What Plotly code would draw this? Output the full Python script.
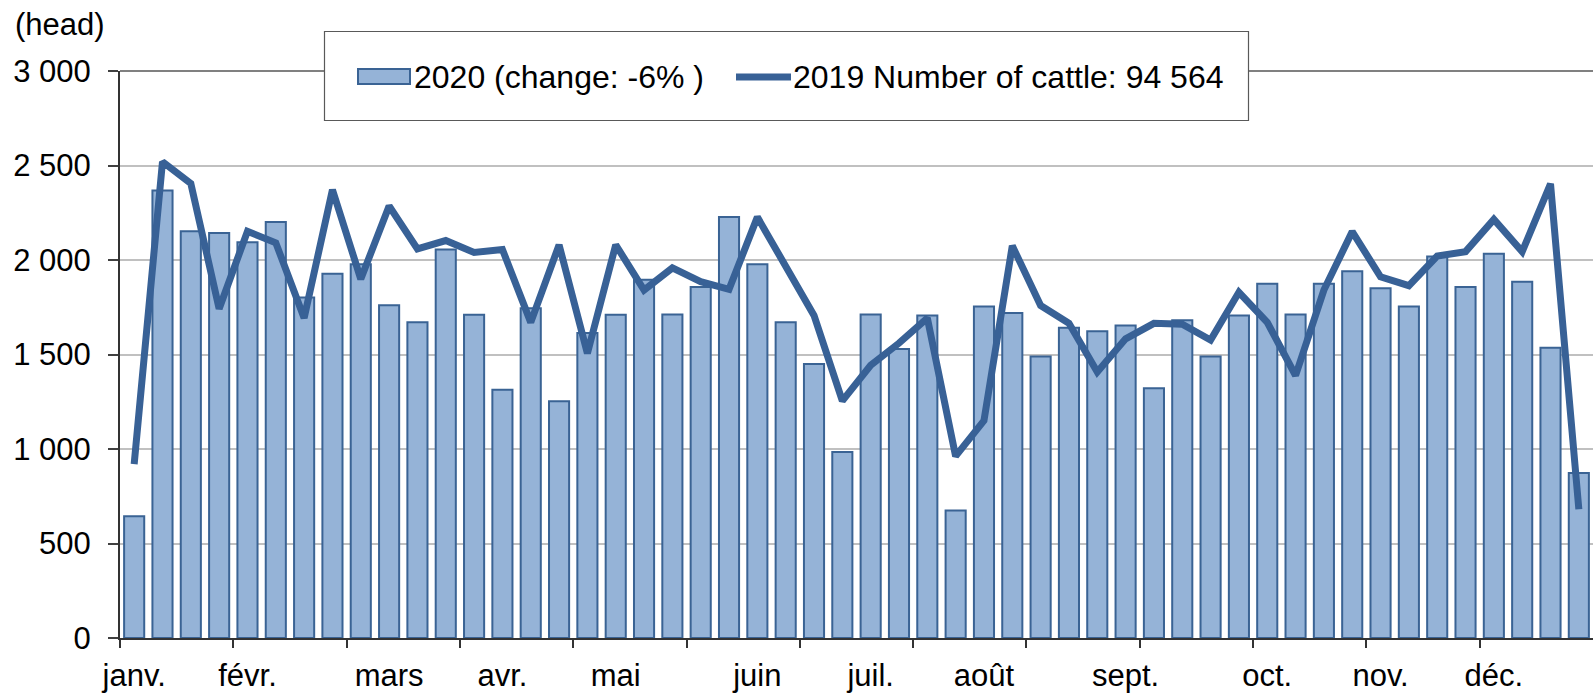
import plotly.graph_objects as go

months = ["janv.", "févr.", "mars", "avr.", "mai", "juin", "juil.", "août",
          "sept.", "oct.", "nov.", "déc."]
month_week_index = [0, 4, 9, 13, 17, 22, 26, 30, 35, 40, 44, 48]
weeks = list(range(52))

cattle_2020 = [644, 2368, 2152, 2143, 2094, 2201, 1801, 1927, 1977, 1761,
               1670, 2056, 1710, 1314, 1745, 1253, 1614, 1710, 1895, 1712,
               1857, 2227, 1977, 1670, 1450, 984, 1712, 1529, 1707, 674,
               1754, 1719, 1489, 1642, 1623, 1653, 1321, 1681, 1489, 1707,
               1874, 1712, 1874, 1941, 1850, 1754, 2019, 1857, 2033, 1885,
               1536, 873]
cattle_2019 = [920, 2520, 2405, 1742, 2152, 2091, 1693, 2372, 1899, 2286,
               2059, 2103, 2040, 2056, 1670, 2080, 1506, 2080, 1841, 1958,
               1885, 1845, 2227, 1970, 1707, 1255, 1443, 1560, 1693, 962,
               1150, 2075, 1759, 1665, 1407, 1583, 1665, 1660, 1576, 1829,
               1670, 1389, 1841, 2150, 1911, 1864, 2021, 2044, 2215, 2044,
               2403, 681]

label_2020 = "2020 (change: -6% )"
label_2019 = "2019 Number of cattle: 94 564"
y_title = "(head)"

BAR_FILL = "#95b3d7"
BAR_EDGE = "#3a6394"
LINE_COL = "#386196"
FONT = "Liberation Sans, Arial, sans-serif"
FS = 31
FS_LEG = 32

W, H = 1593, 694
ML, MR, MT, MB = 120, 0, 71, 56
PW, PH = W - ML - MR, H - MT - MB


def px(x):
    return (x - ML) / PW


def py(y):
    return (H - MB - y) / PH


fig = go.Figure()
fig.add_trace(go.Bar(x=weeks, y=cattle_2020, name=label_2020,
                     marker=dict(color=BAR_FILL, line=dict(color=BAR_EDGE, width=2)),
                     width=0.71, showlegend=False))
fig.add_trace(go.Scatter(x=weeks, y=cattle_2019, name=label_2019, mode="lines",
                         line=dict(color=LINE_COL, width=7), showlegend=False))

shapes = [
    # top border of plot area
    dict(type="line", xref="paper", yref="paper", x0=0, x1=1, y0=1, y1=1,
         line=dict(color="#808080", width=2), layer="above"),
    # legend box
    dict(type="rect", xref="paper", yref="paper", x0=px(324.5), x1=px(1248.5),
         y0=py(120.5), y1=py(31.5), fillcolor="white",
         line=dict(color="#595959", width=1.2), layer="above"),
    # bar swatch
    dict(type="rect", xref="paper", yref="paper", x0=px(358), x1=px(410),
         y0=py(84), y1=py(69), fillcolor=BAR_FILL,
         line=dict(color=BAR_EDGE, width=2), layer="above"),
    # line swatch
    dict(type="line", xref="paper", yref="paper", x0=px(736), x1=px(791),
         y0=py(77), y1=py(77), line=dict(color=LINE_COL, width=7), layer="above"),
]

annotations = [
    dict(text=label_2020, xref="paper", yref="paper", x=px(412), y=py(77),
         xanchor="left", yanchor="middle", showarrow=False,
         font=dict(family=FONT, size=FS_LEG, color="black")),
    dict(text=label_2019, xref="paper", yref="paper", x=px(791), y=py(77),
         xanchor="left", yanchor="middle", showarrow=False,
         font=dict(family=FONT, size=FS_LEG, color="black")),
    dict(text=y_title, xref="paper", yref="paper", x=px(13), y=py(25),
         xanchor="left", yanchor="middle", showarrow=False,
         font=dict(family=FONT, size=FS, color="black")),
]

fig.update_layout(
    width=W, height=H,
    margin=dict(l=ML, r=MR, t=MT, b=MB, pad=0, autoexpand=False),
    paper_bgcolor="white", plot_bgcolor="white",
    font=dict(family=FONT, size=FS, color="black"),
    separators=", ",
    bargap=0.29,
    shapes=shapes,
    annotations=annotations,
    showlegend=False,
    xaxis=dict(
        range=[-0.5, 51.5], automargin=False,
        tickmode="array", tickvals=month_week_index, ticktext=months,
        ticks="", showgrid=False, zeroline=False,
        showline=True, linecolor="#333333", linewidth=2,
        tickfont=dict(family=FONT, size=FS, color="black"),
        ticklabelstandoff=9,
        minor=dict(tickmode="array",
                   tickvals=[k - 0.5 for k in range(0, 52, 4)],
                   ticks="outside", ticklen=8, tickwidth=1.5,
                   tickcolor="#333333", showgrid=False),
    ),
    yaxis=dict(
        range=[0, 3000], automargin=False, tickmode="array",
        tickvals=[0, 500, 1000, 1500, 2000, 2500, 3000],
        tickformat=",d",
        showgrid=True, gridcolor="#c0c0c0", gridwidth=2,
        zeroline=False,
        showline=True, linecolor="#333333", linewidth=2,
        ticks="outside", ticklen=10, tickwidth=1.5, tickcolor="#404040",
        tickfont=dict(family=FONT, size=FS, color="black"),
        ticklabelstandoff=11,
    ),
)

fig.write_html(
    "out.html",
    config={"displayModeBar": False},
    post_script="document.body.style.margin='0';document.body.style.overflow='hidden';",
)
